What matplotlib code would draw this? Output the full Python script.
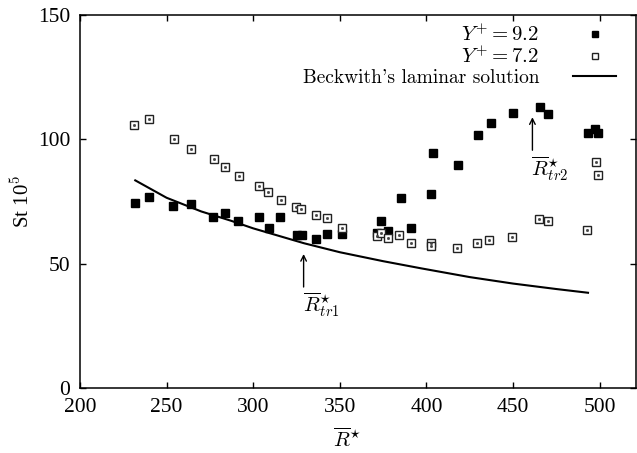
import matplotlib
matplotlib.use("Agg")
import matplotlib.pyplot as plt

plt.rcParams['font.family'] = ['Liberation Serif', 'DejaVu Serif']
plt.rcParams['mathtext.fontset'] = 'cm'

# Y+ = 9.2 (filled squares)
r_y92 = [231.9, 239.8, 253.7, 263.9, 276.7, 283.5, 291.2, 303.4, 309.4, 315.5,
         325.2, 328.1, 336.4, 342.4, 351.4, 371.4, 373.7, 377.8, 390.9, 385.3,
         402.9, 403.7, 418.0, 429.6, 437.1, 450.0, 465.7, 470.0, 493.3, 497.6, 499.1]
st_y92 = [74.4, 76.8, 73.1, 73.9, 68.9, 70.2, 67.0, 68.9, 64.3, 68.6,
          61.6, 61.6, 60.0, 62.0, 62.1, 62.2, 67.3, 63.2, 64.2, 76.3,
          78.0, 94.6, 89.7, 101.8, 106.7, 110.7, 113.2, 110.2, 102.7, 104.0, 102.7]

# Y+ = 7.2 (open squares)
r_y72 = [230.9, 239.8, 254.1, 263.9, 277.1, 283.6, 291.8, 303.4, 308.8, 315.9,
         324.5, 327.7, 336.1, 342.4, 351.3, 371.4, 373.9, 377.8, 384.4, 390.9,
         402.9, 402.5, 417.4, 429.2, 436.1, 449.3, 464.9, 470.0, 492.9, 497.8, 498.9]
st_y72 = [105.6, 108.0, 100.1, 96.0, 92.2, 88.9, 85.2, 81.2, 78.7, 75.5,
          72.9, 72.0, 69.4, 68.2, 64.5, 61.3, 62.2, 60.3, 61.4, 58.2,
          58.2, 57.1, 56.2, 58.4, 59.4, 60.8, 68.0, 67.3, 63.5, 90.9, 85.8]

# Beckwith's laminar solution
r_lam = [231.9, 250, 270, 287, 300, 329.4, 350, 375, 397.1, 425, 450, 475, 493.3]
st_lam = [83.5, 76.5, 71.0, 67.3, 64.2, 58.2, 54.6, 51.0, 48.1, 44.6, 42.0, 39.8, 38.3]

x_ticks = [200, 250, 300, 350, 400, 450, 500]
y_ticks = [0, 50, 100, 150]

fig = plt.figure(figsize=(6.37, 4.53), dpi=100)
ax = fig.add_axes([80/637, 1-388/453, 556/637, 373/453])

ax.plot(r_y92, st_y92, ls='none', marker='s', ms=5.6, mfc='black', mec='black',
        label=r'$Y^{+}=9.2$')
ax.plot(r_y72, st_y72, ls='none', marker='s', ms=5.6, mfc='white', mec='#222222',
        mew=1.0, label=r'$Y^{+}=7.2$')
ax.plot(r_y72, st_y72, ls='none', marker='s', ms=1.0, mfc='#444444', mec='#444444')
ax.plot(r_lam, st_lam, color='black', lw=1.5, label="Beckwith's laminar solution")

ax.set_xlim(200, 521)
ax.set_ylim(0, 150)
ax.set_xticks(x_ticks)
ax.set_yticks(y_ticks)
ax.tick_params(direction='in', top=True, right=True, length=4, width=1,
               labelsize=15.5, pad=7)
for s in ax.spines.values():
    s.set_linewidth(1.1)

ax.set_ylabel(r'St 10$^5$', fontsize=15)
ax.yaxis.set_label_coords(-0.082, 0.5)
fig.text(347/637, 1-440/453, r'$\overline{R}^{\star}$', fontsize=15,
         ha='center', va='center')

# transition arrows
ax.annotate('', xy=(329.1, 55.0), xytext=(329.1, 39.5),
            arrowprops=dict(arrowstyle='->', color='black', lw=1.0))
ax.text(328.5, 33.5, r'$\overline{R}^{\star}_{tr1}$', fontsize=15, ha='left', va='center')
ax.annotate('', xy=(461.2, 110.0), xytext=(461.2, 94.5),
            arrowprops=dict(arrowstyle='->', color='black', lw=1.0))
ax.text(460.5, 88.0, r'$\overline{R}^{\star}_{tr2}$', fontsize=15, ha='left', va='center')

leg = ax.legend(loc='upper right', bbox_to_anchor=(0.991, 1.015), frameon=False,
                markerfirst=False, handlelength=2.1, markerscale=0.8,
                labelspacing=0.05, handletextpad=1.6, borderpad=0.2,
                prop={'family': 'cmr10', 'size': 15})
leg.get_texts()[2].set_fontsize(14)
fig.savefig('out.png', dpi=100)
